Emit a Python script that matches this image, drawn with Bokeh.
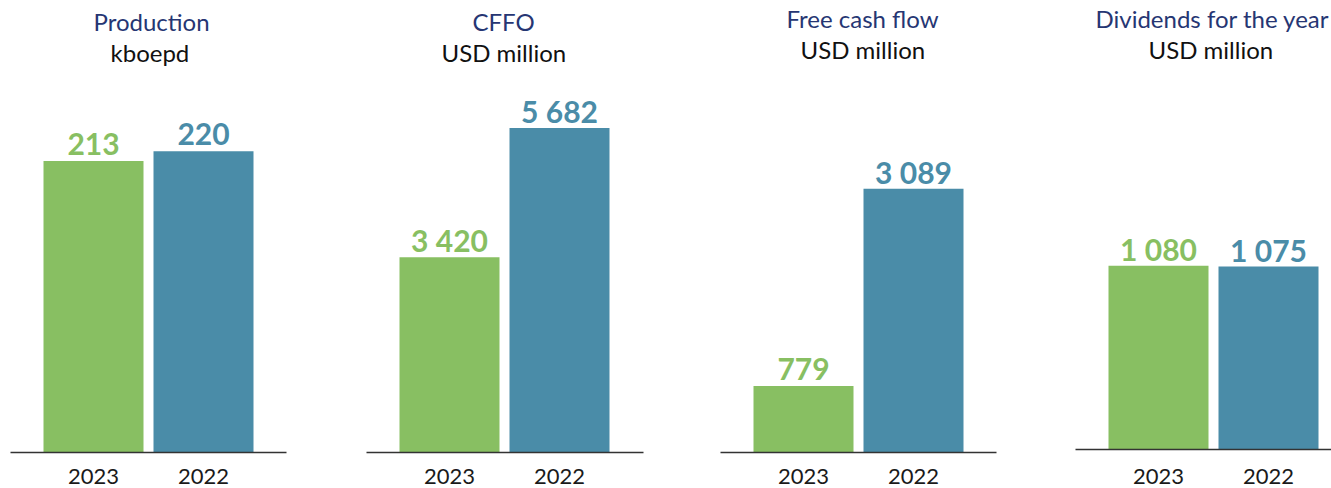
from bokeh.plotting import figure
from bokeh.models import Range1d, FixedTicker, Title, ColumnDataSource, Spacer
from bokeh.layouts import row, column
from bokeh.embed import file_html
from bokeh.resources import INLINE
from bokeh.core.properties import value

# ---- data ----
years = ["2023", "2022"]
titles = ["Production", "CFFO", "Free cash flow", "Dividends for the year"]
units = ["kboepd", "USD million", "USD million", "USD million"]
production = [213, 220]
cffo = [3420, 5682]
free_cash_flow = [779, 3089]
dividends = [1080, 1075]
series = [production, cffo, free_cash_flow, dividends]

# ---- style / layout ----
GREEN = "#88bf62"
BLUE = "#4a8ca8"
NAVY = "#263673"
FONT = "Lato"
y_ends = [282, 6760, 4557, 2268]
widths = [326, 355, 355, 295]
lefts = [10, 40, 39, 39]
rights = [40, 38, 40, 0]
top_pads = [4, 4, 1, 1]
bottoms = [36, 36, 36, 39]
standoffs = [16, 16, 16, 19]
title_offsets = [83, 106, 66, 20]
unit_offsets = [100, 75, 80, 73]
H = 488
UNIT = 110.0  # px per category step
START = -83.0 / UNIT


def fmt(v):
    return f"{v:,}".replace(",", " ")


cols = []
for i in range(4):
    vals = series[i]
    frame_w = widths[i] - lefts[i] - rights[i]
    p = figure(width=widths[i], height=H - top_pads[i], output_backend="svg",
               toolbar_location=None, y_axis_location=None,
               x_range=Range1d(START, START + frame_w / UNIT),
               y_range=Range1d(0, y_ends[i]),
               min_border_left=lefts[i], min_border_right=rights[i],
               min_border_top=0, min_border_bottom=bottoms[i])
    p.outline_line_color = None
    p.xgrid.visible = False
    p.ygrid.visible = False
    p.background_fill_color = None
    p.border_fill_color = None

    src = ColumnDataSource(dict(
        x=list(range(len(years))), top=vals,
        color=[GREEN, BLUE], label=[fmt(v) for v in vals]))
    p.vbar(x="x", top="top", width=100 / UNIT, color="color", source=src,
           line_color=None)
    p.text(x="x", y="top", text="label", source=src, text_color="color",
           text_align="center", text_baseline="alphabetic", y_offset=-17,
           text_font=value(FONT), text_font_style="bold",
           text_font_size="30px")

    ax = p.xaxis[0]
    ax.ticker = FixedTicker(ticks=list(range(len(years))))
    ax.major_label_overrides = {k: y for k, y in enumerate(years)}
    ax.major_tick_line_color = None
    ax.minor_tick_line_color = None
    ax.major_tick_in = 0
    ax.major_tick_out = 0
    ax.axis_line_color = "#333333"
    ax.axis_line_width = 1.5
    ax.major_label_text_font = FONT
    ax.major_label_text_font_size = "22px"
    ax.major_label_text_color = "#1a1a1a"
    ax.major_label_standoff = standoffs[i]

    p.add_layout(Title(text=units[i], align="left", text_font=FONT,
                       text_font_size="24px", text_font_style="normal",
                       text_color="#111111", standoff=0,
                       offset=unit_offsets[i]), "above")
    p.add_layout(Title(text=titles[i], align="left", text_font=FONT,
                       text_font_size="24px", text_font_style="normal",
                       text_color=NAVY, standoff=0,
                       offset=title_offsets[i]), "above")
    cols.append(column(Spacer(width=widths[i], height=top_pads[i]), p,
                       spacing=0))

layout = row(*cols, spacing=0)
open("out.html", "w").write(file_html(layout, INLINE))
